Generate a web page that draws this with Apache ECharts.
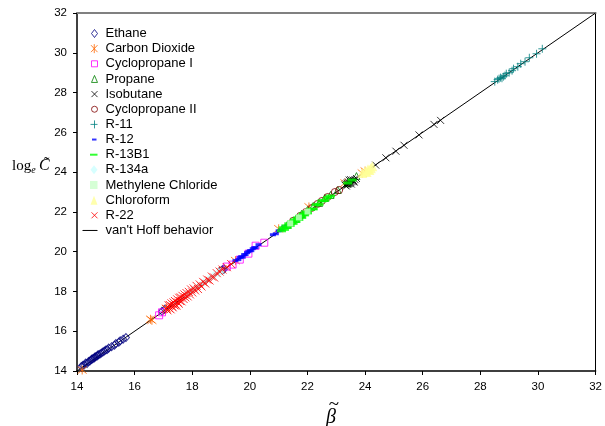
<!DOCTYPE html>
<html>
<head>
<meta charset="utf-8">
<script src="https://cdn.jsdelivr.net/npm/echarts@6/dist/echarts.min.js"></script>
<style>html,body{margin:0;padding:0;background:#fff}#c{width:605px;height:426px}</style>
</head>
<body>
<div id="c"></div>
<script>
// ---- data ----
const axisTicks = [14,16,18,20,22,24,26,28,30,32];
const ethane = [[14.15,14.22],[14.2,14.28],[14.25,14.3],[14.3,14.4],[14.35,14.38],[14.4,14.48],[14.45,14.5],[14.5,14.58],[14.52,14.6],[14.55,14.62],[14.6,14.66],[14.62,14.7],[14.65,14.72],[14.7,14.75],[14.72,14.8],[14.75,14.82],[14.8,14.86],[14.85,14.9],[14.9,14.95],[14.95,15.0],[15.0,15.05],[15.05,15.08],[15.1,15.15],[15.2,15.22],[15.3,15.3],[15.35,15.38],[15.45,15.45],[15.5,15.52],[15.6,15.6],[15.7,15.68],[16.95,17.0],[17.05,17.1],[19.05,19.1],[19.1,19.12]];
const co2 = [[14.18,14.05],[16.55,16.6],[16.6,16.55],[17.1,17.15],[19.5,19.55],[21.0,21.15],[22.05,22.25],[23.3,23.45],[23.9,23.95],[24.0,24.05]];
const cyclopropaneI = [[16.85,16.8],[16.95,16.95],[19.2,19.25],[19.4,19.35],[19.65,19.6],[19.95,19.9],[20.2,20.3],[20.5,20.45]];
const propane = [[21.3,21.35],[21.6,21.65],[21.8,21.9],[22.0,22.1],[22.2,22.3],[22.4,22.45],[22.6,22.7],[22.8,22.85],[23.05,23.1],[23.4,23.45],[23.7,23.8]];
const isobutane = [[23.3,23.35],[23.35,23.4],[23.38,23.45],[23.4,23.38],[23.42,23.5],[23.45,23.42],[23.48,23.55],[23.5,23.48],[23.52,23.4],[23.55,23.52],[23.58,23.6],[23.6,23.55],[23.62,23.5],[23.65,23.62],[23.7,23.68],[23.45,23.6],[23.35,23.3],[23.5,23.62],[24.37,24.35],[24.72,24.72],[25.07,25.05],[25.35,25.35],[25.87,25.87],[26.39,26.4],[26.62,26.6]];
const cyclopropaneII = [[19.0,19.05],[21.5,21.55],[21.75,21.8],[21.95,22.0],[22.15,22.2],[22.35,22.4],[22.5,22.55],[22.7,22.75],[22.95,23.0],[23.1,23.1]];
const r11 = [[28.5,28.55],[28.6,28.65],[28.65,28.7],[28.7,28.75],[28.75,28.72],[28.8,28.8],[28.85,28.85],[28.9,28.95],[29.0,29.0],[29.1,29.1],[29.15,29.2],[29.3,29.3],[29.4,29.45],[29.55,29.55],[29.7,29.75],[29.95,29.95],[30.15,30.2]];
const r12 = [[19.5,19.55],[19.6,19.6],[19.65,19.7],[19.7,19.75],[19.75,19.72],[19.8,19.85],[19.85,19.85],[19.9,19.95],[19.95,20.0],[20.0,20.05],[20.05,20.05],[20.1,20.15],[20.15,20.2],[20.2,20.2],[20.3,20.35],[20.8,20.85],[20.9,20.9],[21.0,21.05],[21.1,21.1],[21.2,21.25],[21.3,21.3]];
const r13b1 = [[21.1,21.05],[21.15,21.2],[21.2,21.12],[21.25,21.3],[21.3,21.22],[21.35,21.4],[21.4,21.32],[21.45,21.5],[21.5,21.42],[21.55,21.6],[21.6,21.52],[21.65,21.7],[21.7,21.62],[21.75,21.8],[21.8,21.72],[21.85,21.9],[21.9,21.85],[21.95,22.0],[22.0,21.95],[22.1,22.12],[22.2,22.15],[22.3,22.35],[22.4,22.38],[22.5,22.55],[22.6,22.58],[22.7,22.72],[22.8,22.8],[23.4,23.45],[23.55,23.6]];
const r134a = [[17.8,17.85],[18.0,18.05],[18.2,18.25],[18.4,18.45],[18.6,18.65],[18.75,18.8],[18.9,18.95],[19.0,19.0]];
const methyleneChloride = [[21.4,21.42],[21.7,21.72],[22.0,22.02]];
const chloroform = [[23.9,23.95],[24.0,24.05],[24.05,24.0],[24.1,24.15],[24.15,24.1],[24.2,24.2],[24.25,24.3]];
const r22 = [[17.10,17.12],[17.14,17.05],[17.18,17.30],[17.20,17.15],[17.22,17.32],[17.25,17.10],[17.28,17.40],[17.30,17.25],[17.32,17.20],[17.35,17.45],[17.38,17.30],[17.40,17.52],[17.42,17.35],[17.45,17.28],[17.48,17.60],[17.50,17.45],[17.53,17.38],[17.55,17.68],[17.58,17.52],[17.60,17.70],[17.63,17.50],[17.66,17.78],[17.70,17.62],[17.73,17.85],[17.76,17.70],[17.80,17.92],[17.84,17.75],[17.88,17.98],[17.92,17.85],[17.96,18.10],[18.00,17.95],[18.05,18.15],[18.10,18.05],[18.15,18.28],[18.20,18.12],[18.26,18.35],[18.32,18.25],[18.38,18.48],[18.45,18.40],[18.52,18.60],[18.60,18.55],[18.68,18.75],[18.76,18.70],[18.85,18.92],[18.95,19.00],[19.05,19.10],[19.20,19.22],[19.35,19.38]];
const vantHoff = [[14,14],[32,32]];

// ---- symbols ----
const P_X = 'path://M0,0L10,10M10,0L0,10';
const P_AST = 'path://M0,1L10,9M10,1L0,9M5,0L5,10';
const P_PLUS = 'path://M5,0L5,10M0,5L10,5';
const P_DASH_S = 'path://M0,0L5,0L5,2L0,2Z';
const P_DASH_L = 'path://M0,0L8,0L8,2L0,2Z';
const B = 'M0,0M15,9';
const L = {
  diamond: 'path://'+B+'M12,0.5L15,4.5L12,8.5L9,4.5Z',
  ast: 'path://'+B+'M8.5,1L15,8M15,1L8.5,8M11.75,0L11.75,9',
  square: 'path://'+B+'M9,1.5L15,1.5L15,7.5L9,7.5Z',
  tri: 'path://'+B+'M12,1L15,8L9,8Z',
  x: 'path://'+B+'M9,1.5L15,7.5M15,1.5L9,7.5',
  circle: 'path://'+B+'M15,4.5A3,3 0 1 1 9,4.5A3,3 0 1 1 15,4.5Z',
  plus: 'path://'+B+'M12,0.5L12,8.5M8,4.5L15,4.5',
  dashS: 'path://'+B+'M9.5,3.5L14,3.5L14,5.5L9.5,5.5Z',
  dashL: 'path://'+B+'M7.5,3.5L15,3.5L15,5.5L7.5,5.5Z',
  fdiamond: 'path://'+B+'M11.5,0L15,4.5L11.5,9L8,4.5Z',
  fsquare: 'path://'+B+'M7.5,0.5L15,0.5L15,8.5L7.5,8.5Z',
  ftri: 'path://'+B+'M11.5,0L15,9L8,9Z',
  line: 'path://'+B+'M0,4L15,4L15,5L0,5Z'
};

function hollow(name, data, symbol, size, color){
  return {name, type:'scatter', data, symbol, symbolSize:size, z:2,
    itemStyle:{color:'rgba(0,0,0,0)', borderColor:color, borderWidth:1}};
}
function filled(name, data, symbol, size, color){
  return {name, type:'scatter', data, symbol, symbolSize:size, z:2,
    itemStyle:{color:color, borderWidth:0}};
}

const series = [
  hollow('Ethane', ethane, 'diamond', [7,8], '#000080'),
  hollow('Carbon Dioxide', co2, P_AST, 9, '#FF6600'),
  hollow('Cyclopropane I', cyclopropaneI, 'rect', 7, '#FF00FF'),
  hollow('Propane', propane, 'triangle', 7, '#008000'),
  hollow('Isobutane', isobutane, P_X, 7, '#000000'),
  hollow('Cyclopropane II', cyclopropaneII, 'circle', 7, '#800000'),
  hollow('R-11', r11, P_PLUS, 8, '#008080'),
  filled('R-12', r12, P_DASH_S, [6,3], '#0000FF'),
  filled('R-13B1', r13b1, P_DASH_L, [9,3], '#00FF00'),
  filled('R-134a', r134a, 'diamond', [8,9], '#CCFFFF'),
  filled('Methylene Chloride', methyleneChloride, 'rect', 6, '#CCFFCC'),
  filled('Chloroform', chloroform, 'triangle', 10, '#FFFF99'),
  hollow('R-22', r22, P_X, 8, '#FF0000'),
  {name:"van't Hoff behavior", type:'line', data:vantHoff, symbol:'none', showSymbol:false, z:1,
    lineStyle:{color:'#000', width:1}, itemStyle:{color:'#000'}}
];

const legendData = [
  {name:'Ethane', icon:L.diamond},
  {name:'Carbon Dioxide', icon:L.ast},
  {name:'Cyclopropane I', icon:L.square},
  {name:'Propane', icon:L.tri},
  {name:'Isobutane', icon:L.x},
  {name:'Cyclopropane II', icon:L.circle},
  {name:'R-11', icon:L.plus},
  {name:'R-12', icon:L.dashS, itemStyle:{borderWidth:0}},
  {name:'R-13B1', icon:L.dashL, itemStyle:{borderWidth:0}},
  {name:'R-134a', icon:L.fdiamond, itemStyle:{borderWidth:0}},
  {name:'Methylene Chloride', icon:L.fsquare, itemStyle:{borderWidth:0}},
  {name:'Chloroform', icon:L.ftri, itemStyle:{borderWidth:0}},
  {name:'R-22', icon:L.x},
  {name:"van't Hoff behavior", icon:L.line, itemStyle:{color:'#000', borderWidth:0}}
];

const axisCommon = {
  type:'value', min:axisTicks[0], max:axisTicks[axisTicks.length-1], interval:2,
  splitLine:{show:false}
};
const FONT = 'Liberation Sans, Arial, sans-serif';

const chart = echarts.init(document.getElementById('c'), null, {renderer:'canvas'});
chart.setOption({
  animation:false,
  backgroundColor:'#fff',
  grid:{left:77, right:8, top:13, bottom:55},
  legend:{
    orient:'vertical', left:77, top:22, padding:5, itemWidth:15, itemHeight:9, itemGap:2.15,
    data:legendData, selectedMode:false,
    itemStyle:{borderWidth:1},
    lineStyle:{width:1},
    textStyle:{fontFamily:FONT, fontSize:13, color:'#000', padding:[0,0,0,3]}
  },
  xAxis:[
    Object.assign({}, axisCommon, {
      position:'bottom',
      axisLine:{lineStyle:{color:'#000', width:1.5}},
      axisTick:{show:true, inside:false, length:4, lineStyle:{color:'#000'}},
      axisLabel:{margin:10, color:'#000', fontFamily:FONT, fontSize:11.5}
    }),
    Object.assign({}, axisCommon, {
      position:'top',
      axisLine:{lineStyle:{color:'#808080', width:2}},
      axisTick:{show:false}, axisLabel:{show:false}
    })
  ],
  yAxis:[
    Object.assign({}, axisCommon, {
      position:'left',
      axisLine:{lineStyle:{color:'#000', width:1.5}},
      axisTick:{show:true, inside:false, length:4, lineStyle:{color:'#000'}},
      axisLabel:{margin:10, color:'#000', fontFamily:FONT, fontSize:11.5}
    }),
    Object.assign({}, axisCommon, {
      position:'right',
      axisLine:{lineStyle:{color:'#000', width:1}},
      axisTick:{show:false}, axisLabel:{show:false}
    })
  ],
  graphic:[
    {type:'text', left:12, top:158, style:{
      text:'{a|log}{s|e} {c|C\u0303}',
      rich:{
        a:{fontFamily:'Liberation Serif, Times New Roman, serif', fontSize:15, fill:'#000'},
        s:{fontFamily:'Liberation Serif, Times New Roman, serif', fontStyle:'italic', fontSize:10, fill:'#000', padding:[8,0,0,0]},
        c:{fontFamily:'Liberation Serif, Times New Roman, serif', fontStyle:'italic', fontSize:16, fill:'#000'}
      }
    }},
    {type:'text', x:331, y:418, style:{
      text:'\u03B2', fontFamily:'Liberation Serif, DejaVu Serif, serif', fontStyle:'italic', fontSize:20,
      fill:'#000', align:'center', verticalAlign:'middle'
    }},
    {type:'text', x:334, y:405, style:{
      text:'~', fontFamily:'Liberation Serif, DejaVu Serif, serif', fontSize:19,
      fill:'#000', align:'center', verticalAlign:'middle'
    }}
  ],
  series: series
});
</script>
</body>
</html>
